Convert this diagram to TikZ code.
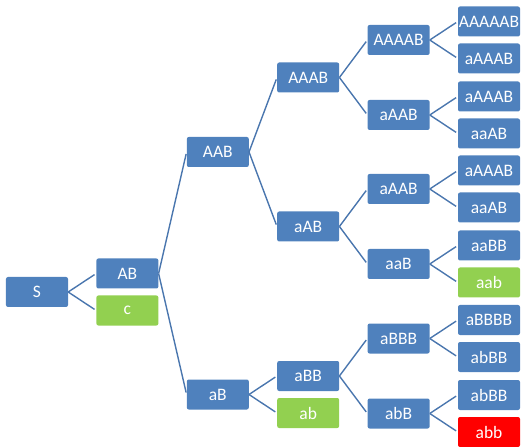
\documentclass[tikz,border=0pt]{standalone}
\usepackage{fontspec}
\setmainfont{Carlito}
\usepackage{tikz}
\usetikzlibrary{positioning,calc}

\definecolor{boxblue}{HTML}{4F81BD}
\definecolor{linkblue}{HTML}{4A76AE}
\definecolor{leafgreen}{HTML}{92D050}
\definecolor{deadred}{HTML}{FF0000}

\tikzset{
    word/.style={fill=boxblue, text=white, rounded corners=2pt, minimum width=62pt,
        minimum height=30pt, inner sep=0pt, font=\fontsize{17.5}{20}\selectfont},
    done/.style={word, fill=leafgreen},
    fail/.style={word, fill=deadred},
    link/.style={draw=linkblue, line width=1.4pt, shorten >=2pt}
}

\begin{document}
\begin{tikzpicture}[node distance=28pt]
    % Define nodes
    \node (S) [word] {S};
    \node (AB) [word, right=of S, yshift=18.5pt] {AB};
    \node (c) [done, right=of S, yshift=-18.5pt] {c};

    \node (AAB) [word, right=of AB, yshift=121.5pt] {AAB};
    \node (aB) [word, right=of AB, yshift=-121pt] {aB};

    \node (AAAB) [word, right=of AAB, yshift=74.5pt] {AAAB};
    \node (aAB) [word, right=of AAB, yshift=-74.5pt] {aAB};
    \node (aBB) [word, right=of aB, yshift=18.5pt] {aBB};
    \node (ab) [done, right=of aB, yshift=-18.5pt] {ab};

    \node (AAAAB) [word, right=of AAAB, yshift=37.5pt] {AAAAB};
    \node (aAAB1) [word, right=of AAAB, yshift=-37.5pt] {aAAB};
    \node (aAAB2) [word, right=of aAB, yshift=37.5pt] {aAAB};
    \node (aaB) [word, right=of aAB, yshift=-37.5pt] {aaB};
    \node (aBBB) [word, right=of aBB, yshift=37.5pt] {aBBB};
    \node (abB) [word, right=of aBB, yshift=-37.5pt] {abB};

    \node (AAAAAB) [word, right=of AAAAB, yshift=18.5pt] {AAAAAB};
    \node (aAAAB1) [word, right=of AAAAB, yshift=-18.5pt] {aAAAB};
    \node (aAAAB2) [word, right=of aAAB1, yshift=18.5pt] {aAAAB};
    \node (aaAB1) [word, right=of aAAB1, yshift=-18.5pt] {aaAB};
    \node (aAAAB3) [word, right=of aAAB2, yshift=18.5pt] {aAAAB};
    \node (aaAB2) [word, right=of aAAB2, yshift=-18.5pt] {aaAB};
    \node (aaBB) [word, right=of aaB, yshift=18.5pt] {aaBB};
    \node (aab) [done, right=of aaB, yshift=-18.5pt] {aab};
    \node (aBBBB) [word, right=of aBBB, yshift=18.5pt] {aBBBB};
    \node (abBB1) [word, right=of aBBB, yshift=-18.5pt] {abBB};
    \node (abBB2) [word, right=of abB, yshift=18.5pt] {abBB};
    \node (abb) [fail, right=of abB, yshift=-18.5pt] {abb};

    \useasboundingbox ($(S.center)+(-37pt,-153pt)$) rectangle ($(S.center)+(485pt,292pt)$);

    % Draw links
    \draw[link] (S.east) -- (AB.west);
    \draw[link] (S.east) -- (c.west);

    \draw[link] (AB.east) -- (AAB.west);
    \draw[link] (AB.east) -- (aB.west);

    \draw[link] (AAB.east) -- (AAAB.west);
    \draw[link] (AAB.east) -- (aAB.west);
    \draw[link] (aB.east) -- (aBB.west);
    \draw[link] (aB.east) -- (ab.west);

    \draw[link] (AAAB.east) -- (AAAAB.west);
    \draw[link] (AAAB.east) -- (aAAB1.west);
    \draw[link] (aAB.east) -- (aAAB2.west);
    \draw[link] (aAB.east) -- (aaB.west);
    \draw[link] (aBB.east) -- (aBBB.west);
    \draw[link] (aBB.east) -- (abB.west);

    \draw[link] (AAAAB.east) -- (AAAAAB.west);
    \draw[link] (AAAAB.east) -- (aAAAB1.west);
    \draw[link] (aAAB1.east) -- (aAAAB2.west);
    \draw[link] (aAAB1.east) -- (aaAB1.west);
    \draw[link] (aAAB2.east) -- (aAAAB3.west);
    \draw[link] (aAAB2.east) -- (aaAB2.west);
    \draw[link] (aaB.east) -- (aaBB.west);
    \draw[link] (aaB.east) -- (aab.west);
    \draw[link] (aBBB.east) -- (aBBBB.west);
    \draw[link] (aBBB.east) -- (abBB1.west);
    \draw[link] (abB.east) -- (abBB2.west);
    \draw[link] (abB.east) -- (abb.west);
\end{tikzpicture}
\end{document}
